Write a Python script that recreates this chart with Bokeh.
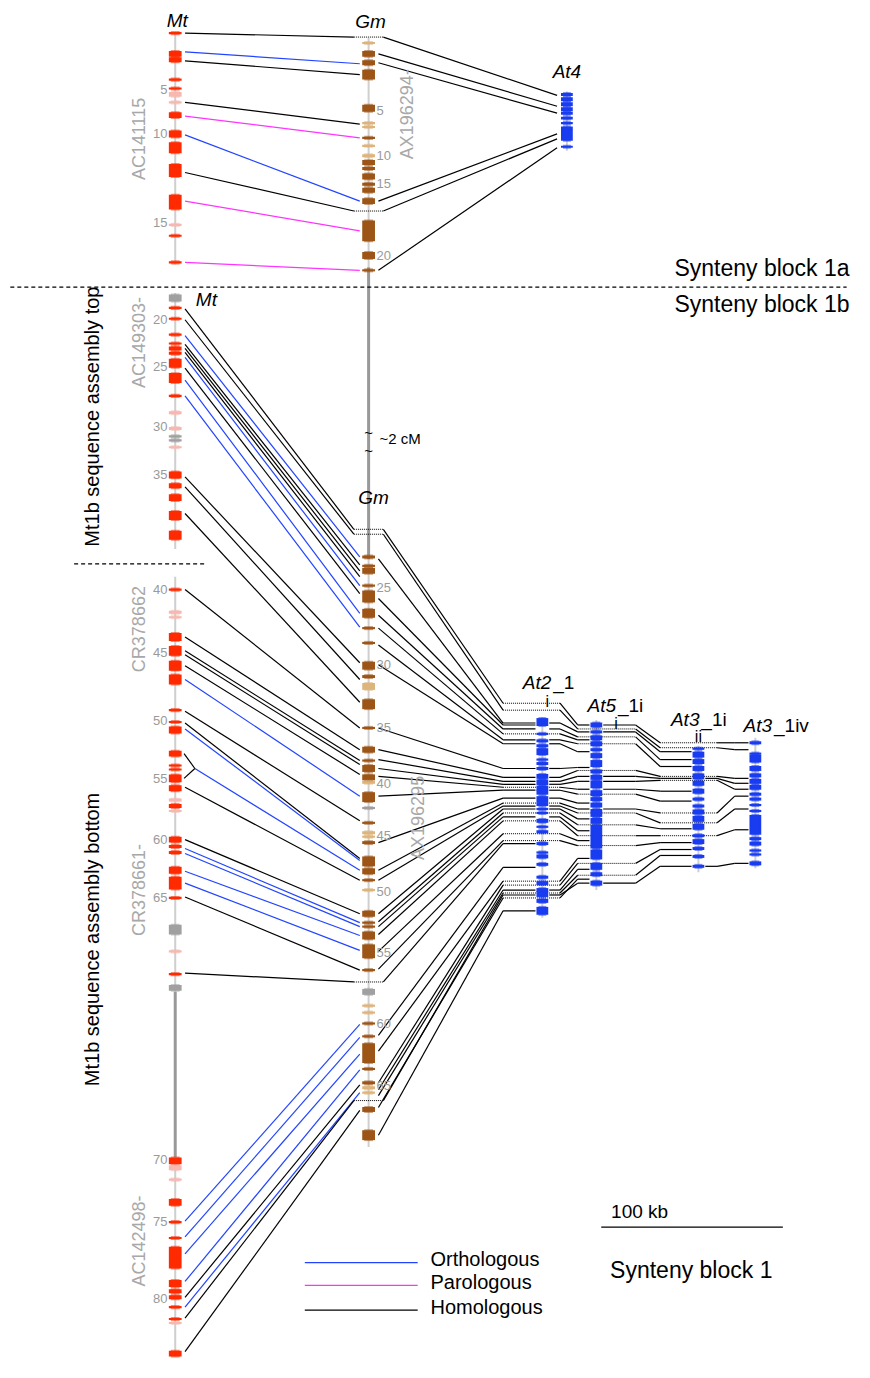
import math
from bokeh.plotting import figure
from bokeh.core.properties import value
from bokeh.embed import file_html
from bokeh.resources import INLINE

FONT = "Liberation Sans"

# ---------------- layout (column positions) ----------------
MT_X, GM_X, AT4_X = 178, 375, 577
AT2_X, AT5_X, AT3II_X, AT3IV_X = 552, 607, 711, 769

# ---------------- data ----------------
# genes: (position, size, category)
mt_genes = [(33,2,"r"),(54,6,"r"),(60,5,"r"),(80,2,"r"),(89,2,"r"),(95,5,"p"),(103,2,"p"),(116,6,"r"),
            (135,7,"r"),(149,11,"r"),(172,13,"r"),(204,15,"r"),(227,2,"p"),(238,2,"r"),(265,2,"r"),
            (301,7,"g"),(311,2,"r"),(322,2,"r"),(338,2,"r"),(347,2,"r"),(352,4,"r"),(357,3,"r"),(367,9,"r"),
            (382,10,"r"),(400,2,"r"),(417,3,"p"),(433,3,"p"),(441,2,"g"),(445,2,"g"),(452,2,"p"),(480,7,"r"),
            (491,5,"r"),(503,7,"r"),(521,9,"r"),(541,9,"r"),
            (596,2,"r"),(619,3,"p"),(624,2,"p"),(644,8,"r"),(658,10,"r"),(673,10,"r"),(687,10,"r"),(718,2,"r"),
            (730,2,"r"),(738,7,"r"),(762,6,"r"),(774,2,"r"),(778,2,"r"),(787,8,"r"),(797,6,"r"),(809,3,"p"),
            (815,4,"r"),(820,2,"p"),(849,6,"r"),(856,3,"r"),(862,3,"r"),
            (880,7,"r"),(893,13,"r"),(908,2,"r"),(940,10,"g"),(962,2,"p"),(985,2,"r"),(999,6,"g"),
            (1174,7,"r"),(1181,5,"p"),(1193,2,"p"),(1216,7,"r"),(1236,2,"r"),(1252,2,"r"),(1272,22,"r"),
            (1298,7,"r"),(1306,4,"r"),(1312,4,"r"),(1322,2,"r"),(1334,2,"r"),(1338,2,"p"),(1369,6,"r")]
gm_genes = [(43,2,"t"),(54,6,"b"),(63,5,"b"),(75,10,"b"),(109,7,"b"),(124,2,"t"),(128,2,"t"),(139,2,"b"),
            (147,2,"t"),(157,3,"t"),(164,5,"b"),(170,3,"b"),(178,6,"b"),(186,3,"b"),(192,5,"b"),(203,6,"b"),
            (233,21,"b"),(258,7,"b"),(273,2,"b"),
            (563,3,"b"),(572,2,"b"),(577,6,"b"),(592,2,"b"),(603,12,"b"),(620,9,"b"),(635,2,"b"),(650,2,"b"),
            (673,8,"b"),(684,3,"b"),(694,7,"t"),(712,10,"b"),(736,2,"b"),(758,6,"b"),(769,2,"b"),(777,7,"b"),
            (786,6,"b"),(791,3,"t"),(806,10,"b"),(817,2,"g"),(832,2,"b"),(842,3,"t"),(846,2,"t"),(852,3,"b"),
            (871,10,"b"),(881,6,"b"),(890,2,"b"),(900,2,"t"),(924,6,"b"),(933,2,"b"),(937,2,"b"),(946,8,"b"),
            (962,14,"b"),(981,2,"b"),(1003,6,"g"),(1017,2,"t"),(1024,2,"t"),(1035,2,"b"),(1048,2,"b"),
            (1065,20,"b"),(1081,2,"b"),(1095,3,"b"),(1100,3,"t"),(1105,2,"t"),(1122,5,"b"),(1148,10,"b")]
at4_genes = [(95,3),(100,4),(105,4),(110,4),(114,3),(119,3),(124,2),(129,3),(136,12),(148,2)]
at2_genes = [(730,8),(742,2),(749,3),(754,3),(760,7),(768,2),(772,3),(777,3),(785,5),(791,6),(797,5),(801,5),
             (808,6),(813,4),(818,2),(822,2),(830,4),(836,2),(841,3),(853,3),(862,2),(866,4),(874,3),(887,3),
             (893,4),(900,4),(904,6),(911,4),(921,8)]
at5_genes = [(733,5),(740,3),(746,5),(752,5),(758,3),(764,5),(772,7),(780,4),(786,5),(793,8),(802,6),(808,4),
             (814,5),(822,8),(830,6),(846,24),(864,10),(876,7),(884,4),(893,5)]
at3ii_genes = [(757,2),(763,6),(770,5),(777,5),(785,6),(792,5),(800,5),(808,3),(815,3),(821,5),(828,6),
               (836,6),(845,3),(851,5),(858,3),(866,3),(876,3)]
at3iv_genes = [(751,3),(762,2),(767,8),(777,5),(784,4),(790,5),(796,5),(803,3),(808,3),(814,2),(820,2),
               (834,20),(848,3),(853,4),(860,2),(864,2),(873,4)]

# chromosome backbones: (start, end, dark?)
mt_backbone = [(33,267,False),(296,555,False),(583,1003,False),(1003,1170,True),(1170,1372,False)]
gm_backbone = [(38,270,False),(270,565,True),(565,1160,False)]
at_backbones = {AT4_X:(92,152), AT2_X:(725,928), AT5_X:(728,900), AT3II_X:(754,882), AT3IV_X:(746,878)}

# tick labels
mt_tick_pos = [90,135,225,323,370,431,480,596,660,728,787,849,908,1173,1235,1313]
mt_tick_lab = ["5","10","15","20","25","30","35","40","45","50","55","60","65","70","75","80"]
gm_tick_pos = [111,157,185,258,594,672,736,792,845,901,963,1035,1098]
gm_tick_lab = ["5","10","15","20","25","30","35","40","45","50","55","60","65"]

# Mt - Gm links (O = orthologous, P = parologous, H = homologous)
mt_link = [33,52,61,103,117,136,174,203,265,
           312,323,339,348,352,356,361,372,384,400,482,492,519,
           596,644,658,662,673,687,719,731,737,777,796,849,858,863,881,893,907,984,
           1235,1251,1268,1296,1312,1322,1333,1367]
gm_link = [37,64,75,125,139,203,213,233,273,
           535,540,563,571,577,583,592,600,620,634,670,687,710,
           736,758,769,773,783,805,830,868,870,880,890,924,933,937,946,961,981,993,
           1036,1049,1066,1082,1097,1105,1113,1123]
link_kind = ["H","O","H","H","P","O","H","P","P",
             "H","H","O","H","H","H","O","H","O","O","H","H","H",
             "H","H","H","H","H","O","H","H","O","O","H","H","O","O","O","O","H","H",
             "O","O","O","O","H","O","H","H"]
gm_absent = [37,213,535,540,993,1113]
mt_merge_from = [762,787]
mt_merge_to = 777

# Gm - At4 links
gm_at4_src = [37,54,63,203,213,273]
at4_dst = [96,107,114,135,140,149]

# Gm - At2/At5/At3_1ii/At3_1iv tracks: y per column (None = track ended), S = gene present, D = absent
trk_gm = [535,540,565,605,622,635,652,672,736,758,768,777,785,805,852,880,890,924,932,937,945,962,980,993,
          1047,1063,1095,1102,1108,1113,1120,1148]
trk_at2 = [711,718,731,733,737,742,748,752,777,786,790,793,796,799,807,812,815,818,822,826,830,843,850,853,
           877,891,895,900,903,905,908,921]
trk_at5 = [733,737,740,None,745,748,752,760,776,779,785,790,798,803,812,818,822,828,834,840,845,850,855,None,
           None,868,873,879,885,893,889,None]
trk_at3ii = [751,756,760,None,768,None,775,None,None,785,787,789,800,810,None,822,832,None,838,None,845,None,852,None,
             None,None,859,None,865,876,None,None]
trk_at3iv = [751,758,None,None,None,None,None,None,None,787,792,798,None,None,None,805,818,None,None,None,839,None,None,None,
             None,None,None,None,None,873,None,None]
trk_flags = ["DSDS","DDDS","SSS","S","SDS","DS","SDS","SS","SS","SDDS","SSSS","SSDS","DSS","SDS","SS","DSDS","SDDS","SS",
             "DDS","SS","DDDS","DS","DDS","S","S","DS","DDS","SS","DDS","SSSS","DS","S"]

# legend / annotation
legend_labels = ["Orthologous","Parologous","Homologous"]
legend_kinds = ["O","P","H"]

KIND_COLOR = {"O":"#2244ff","P":"#ff33ff","H":"#000000"}
MT_COL = {"r":"#ff2a00","p":"#f6b8b0","g":"#a0a0a0"}
GM_COL = {"b":"#9c5518","t":"#ddb47c","g":"#a0a0a0"}
AT_COL = "#1a3cf0"

# ---------------- figure ----------------
p = figure(width=854, height=1362, x_range=(0, 870), y_range=(1378, 0),
           output_backend="svg", toolbar_location=None, min_border=0,
           x_axis_location=None, y_axis_location=None)
p.grid.visible = False
p.outline_line_color = None

# backbones
for s, e, dark in mt_backbone:
    p.segment(x0=[MT_X], y0=[s], x1=[MT_X], y1=[e], line_color="#999999" if dark else "#cfcfcf",
              line_width=3 if dark else 2)
for s, e, dark in gm_backbone:
    p.segment(x0=[GM_X], y0=[s], x1=[GM_X], y1=[e], line_color="#999999" if dark else "#cfcfcf",
              line_width=3 if dark else 2)
for xx, (s, e) in at_backbones.items():
    p.segment(x0=[xx], y0=[s], x1=[xx], y1=[e], line_color="#cfcfcf", line_width=2)

# ---- links ----
solid = {"x0":[],"y0":[],"x1":[],"y1":[],"c":[]}
dots = {"x0":[],"y0":[],"x1":[],"y1":[]}
def add_solid(x0,y0,x1,y1,c="#000000"):
    solid["x0"].append(x0); solid["y0"].append(y0); solid["x1"].append(x1); solid["y1"].append(y1); solid["c"].append(c)
def add_dot(x0,y0,x1,y1):
    dots["x0"].append(x0); dots["y0"].append(y0); dots["x1"].append(x1); dots["y1"].append(y1)

for m, g, k in zip(mt_link, gm_link, link_kind):
    x0 = MT_X + (20 if m == mt_merge_to else 10)
    add_solid(x0, m, GM_X - (15 if g in gm_absent else 9), g, KIND_COLOR[k])
for m in mt_merge_from:
    add_solid(MT_X + 9, m, MT_X + 20, mt_merge_to)
for g in gm_absent:
    add_dot(GM_X - 15, g, GM_X + 15, g)

for g, a in zip(gm_at4_src, at4_dst):
    add_solid(GM_X + (15 if g in gm_absent else 10), g, AT4_X - 10, a)

left_stub = [(512,545),(588,600),(672,704),(748,762)]
right_stub = [(559,570),(614,647),(718,730),None]
for i, g in enumerate(trk_gm):
    ys = [trk_at2[i], trk_at5[i], trk_at3ii[i], trk_at3iv[i]]
    fl = trk_flags[i]
    add_solid(GM_X + (15 if g in gm_absent else 10), g, left_stub[0][0], ys[0])
    for c in range(len(fl)):
        y = ys[c]
        nxt = ys[c+1] if c + 1 < len(fl) else None
        if fl[c] == "S":
            add_solid(left_stub[c][0], y, left_stub[c][1], y)
            if nxt is not None:
                add_solid(right_stub[c][0], y, right_stub[c][1], y)
        else:
            add_dot(left_stub[c][0], y, right_stub[c][1], y)
        if nxt is not None:
            add_solid(right_stub[c][1], y, left_stub[c+1][0], nxt)

p.segment(x0="x0", y0="y0", x1="x1", y1="y1", line_color="c", line_width=1.2, source=solid)
p.segment(x0="x0", y0="y0", x1="x1", y1="y1", line_color="#000000", line_width=1, line_dash="1 1", source=dots)

# ---- genes ----
def draw_genes(xc, genes, colmap=None, w=13):
    ys = [g[0] for g in genes]
    hs = [max(g[1], 2.2) for g in genes]
    cs = [colmap[g[2]] if colmap else AT_COL for g in genes]
    p.rect(x=[xc]*len(genes), y=ys, width=w, height=hs, fill_color=cs, line_color=None)
    p.rect(x=[xc]*len(genes), y=ys, width=w-4, height=[h+2 for h in hs], fill_color=cs,
           line_color=None, fill_alpha=0.55)

draw_genes(MT_X, mt_genes, MT_COL)
draw_genes(GM_X, gm_genes, GM_COL)
draw_genes(AT4_X, [(a,b,"x") for a,b in at4_genes], None, 12)
draw_genes(AT2_X, [(a,b,"x") for a,b in at2_genes], None, 12)
draw_genes(AT5_X, [(a,b,"x") for a,b in at5_genes], None, 12)
draw_genes(AT3II_X, [(a,b,"x") for a,b in at3ii_genes], None, 12)
draw_genes(AT3IV_X, [(a,b,"x") for a,b in at3iv_genes], None, 12)

# ---- tick numbers ----
p.text(x=[MT_X-8]*len(mt_tick_pos), y=mt_tick_pos, text=mt_tick_lab, text_font=value(FONT),
       text_font_size="13px", text_color="#9a9a9a", text_align="right", text_baseline="middle")
p.text(x=[GM_X+8]*len(gm_tick_pos), y=gm_tick_pos, text=gm_tick_lab, text_font=value(FONT),
       text_font_size="13px", text_color="#9a9a9a", text_align="left", text_baseline="middle")

# ---- accessions (vertical) ----
acc_lab = ["AC141115","AX196294-","AC149303-","CR378662","CR378661-","AC142498-","AX196295"]
acc_x = [141,414,141,141,141,141,425]
acc_y = [140,115,346,636,900,1255,827]
p.text(x=acc_x, y=acc_y, text=acc_lab, angle=math.pi/2, text_font=value(FONT), text_font_size="18px",
       text_color="#a8a8a8", text_align="center", text_baseline="middle")

# side labels
p.text(x=[93,93], y=[421,950], text=["Mt1b sequence assembly top","Mt1b sequence assembly bottom"],
       angle=math.pi/2, text_font=value(FONT), text_font_size="20px", text_color="#000000",
       text_align="center", text_baseline="middle")

# species labels (italic)
sp_lab = ["Mt","Gm","At4","Mt","Gm"]
sp_x = [180,377,577,199,380]
sp_y = [20,21,72,303,503]
sp_al = ["center","center","center","left","center"]
p.text(x=sp_x, y=sp_y, text=sp_lab, text_font=value(FONT), text_font_size="19px", text_font_style="italic",
       text_align=sp_al, text_baseline="middle")
at_lab = ["At2","At5","At3","At3"]
at_lab_x = [532,598,683,757]
at_lab_y = [690,713,727,734]
p.text(x=at_lab_x, y=at_lab_y, text=at_lab, text_font=value(FONT), text_font_size="19px",
       text_font_style="italic", text_align="left", text_baseline="middle")
suf_lab = ["_1","_1i","_1i","_1iv"]
p.text(x=[x + 31 for x in at_lab_x], y=at_lab_y, text=suf_lab, text_font=value(FONT), text_font_size="19px",
       text_align="left", text_baseline="middle")
p.text(x=[557,627,711], y=[709,731,745], text=["i","i","ii"], text_font=value(FONT), text_font_size="16px",
       text_align="center", text_baseline="middle")

# ~2 cM break
p.text(x=[375,375], y=[437,455], text=["~","~"], text_font=value(FONT), text_font_size="15px",
       text_align="center", text_baseline="middle")
p.text(x=[386], y=[443], text=["~2 cM"], text_font=value(FONT), text_font_size="15px",
       text_align="left", text_baseline="middle")

# dashed separators
p.segment(x0=[10,75], y0=[290,570], x1=[862,208], y1=[290,570], line_color="#000000", line_width=1.2,
          line_dash="4 3")

# synteny block labels
p.text(x=[865,865], y=[271,307], text=["Synteny block 1a","Synteny block 1b"], text_font=value(FONT),
       text_font_size="23px", text_align="right", text_baseline="middle")
p.text(x=[621], y=[1284], text=["Synteny block 1"], text_font=value(FONT), text_font_size="23px",
       text_align="left", text_baseline="middle")

# scale bar
p.segment(x0=[612], y0=[1241], x1=[797], y1=[1241], line_color="#000000", line_width=1.2)
p.text(x=[622], y=[1225], text=["100 kb"], text_font=value(FONT), text_font_size="19px",
       text_align="left", text_baseline="middle")

# legend
leg_y = [1277,1300,1325]
p.segment(x0=[310]*3, y0=leg_y, x1=[425]*3, y1=leg_y, line_color=[KIND_COLOR[k] for k in legend_kinds],
          line_width=1.3)
p.text(x=[438]*3, y=[1273,1297,1322], text=legend_labels, text_font=value(FONT), text_font_size="20px",
       text_align="left", text_baseline="middle")

open("out.html", "w").write(file_html(p, INLINE))
